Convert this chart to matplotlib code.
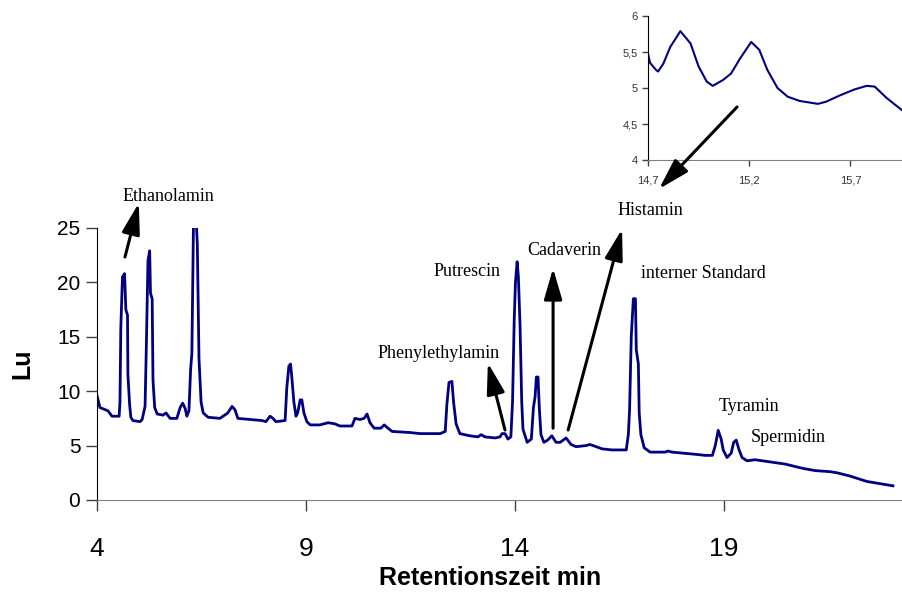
import matplotlib
matplotlib.use("Agg")
import matplotlib.pyplot as plt

# HPLC chromatogram, fluorescence signal over retention time
ret_time = [
    4.00, 4.07, 4.26, 4.36, 4.53, 4.55, 4.57, 4.61, 4.66, 4.69, 4.73, 4.74, 4.78, 4.81, 4.86,
    5.03, 5.08, 5.15, 5.18, 5.22, 5.26, 5.28, 5.32, 5.34, 5.38, 5.44, 5.58, 5.65, 5.75, 5.91,
    5.99, 6.05, 6.11, 6.15, 6.20, 6.24, 6.27, 6.31, 6.37, 6.40, 6.44, 6.49, 6.54, 6.66, 6.94,
    7.13, 7.23, 7.30, 7.37, 7.66, 7.95, 8.04, 8.14, 8.21, 8.28, 8.50, 8.54, 8.59, 8.63, 8.66,
    8.71, 8.76, 8.80, 8.86, 8.90, 8.95, 9.02, 9.10, 9.33, 9.53, 9.69, 9.81, 10.10, 10.17, 10.29,
    10.39, 10.46, 10.53, 10.63, 10.79, 10.87, 10.96, 11.06, 11.49, 11.73, 12.21, 12.33, 12.37,
    12.42, 12.49, 12.53, 12.59, 12.68, 12.92, 13.11, 13.19, 13.28, 13.52, 13.64, 13.69, 13.76,
    13.83, 13.90, 13.94, 13.98, 14.01, 14.05, 14.08, 14.12, 14.16, 14.19, 14.29, 14.39, 14.44,
    14.48, 14.51, 14.55, 14.58, 14.62, 14.69, 14.78, 14.88, 14.98, 15.08, 15.22, 15.34, 15.46,
    15.70, 15.79, 15.94, 16.08, 16.32, 16.66, 16.71, 16.74, 16.78, 16.83, 16.88, 16.90, 16.95,
    16.97, 17.01, 17.09, 17.23, 17.59, 17.66, 17.75, 18.31, 18.55, 18.72, 18.79, 18.86, 18.93,
    18.98, 19.07, 19.17, 19.23, 19.29, 19.36, 19.43, 19.55, 19.74, 20.10, 20.46, 20.89, 21.18,
    21.54, 21.70, 22.01, 22.42, 22.73, 23.04,
]
signal = [
    9.6, 8.5, 8.2, 7.7, 7.7, 9.0, 15.8, 20.5, 20.8, 17.5, 17.0, 11.5, 8.8, 7.6, 7.3,
    7.2, 7.4, 8.6, 14.0, 22.0, 22.9, 19.0, 18.5, 11.0, 8.5, 7.9, 7.8, 8.0, 7.5, 7.5,
    8.5, 8.9, 8.4, 7.7, 8.2, 12.0, 13.5, 26.0, 26.0, 23.5, 13.0, 9.0, 8.0, 7.6, 7.5,
    8.0, 8.6, 8.3, 7.5, 7.4, 7.3, 7.2, 7.7, 7.5, 7.2, 7.3, 10.3, 12.3, 12.5, 11.3,
    9.0, 7.7, 8.0, 9.2, 9.2, 8.0, 7.2, 6.9, 6.9, 7.1, 7.0, 6.8, 6.8, 7.5, 7.4,
    7.5, 7.9, 7.1, 6.6, 6.6, 6.9, 6.6, 6.3, 6.2, 6.1, 6.1, 6.3, 8.8,
    10.8, 10.9, 9.0, 7.0, 6.1, 5.9, 5.8, 6.0, 5.8, 5.7, 5.8, 6.1, 6.1,
    5.6, 5.8, 9.0, 16.5, 20.0, 21.9, 20.5, 16.0, 9.0, 6.5, 5.3, 5.6, 8.5,
    9.5, 11.3, 11.3, 8.5, 6.0, 5.3, 5.5, 5.9, 5.3, 5.3, 5.7, 5.1, 4.9,
    5.0, 5.1, 4.9, 4.7, 4.6, 4.6, 6.0, 8.3, 15.0, 18.5, 18.5, 13.8, 12.5,
    8.0, 6.0, 4.8, 4.4, 4.4, 4.5, 4.4, 4.2, 4.1, 4.1, 5.0, 6.4, 5.6,
    4.6, 3.9, 4.3, 5.3, 5.5, 4.6, 3.9, 3.6, 3.7, 3.5, 3.3, 2.9, 2.7,
    2.6, 2.5, 2.2, 1.7, 1.5, 1.3,
]

# zoomed section 14.7 - 16 min
zoom_time = [
    14.70, 14.71, 14.74, 14.75, 14.776, 14.81, 14.86, 14.91, 14.95, 14.99, 15.02, 15.07, 15.11,
    15.155, 15.21, 15.25, 15.29, 15.34, 15.39, 15.45, 15.54, 15.58, 15.65, 15.72, 15.78, 15.82,
    15.88, 15.956,
]
zoom_signal = [
    5.48, 5.35, 5.25, 5.23, 5.34, 5.57, 5.79, 5.62, 5.30, 5.09, 5.03, 5.11, 5.20,
    5.41, 5.64, 5.53, 5.25, 5.00, 4.88, 4.82, 4.78, 4.81, 4.90, 4.98, 5.03, 5.02,
    4.86, 4.69,
]

x_ticks = [4, 9, 14, 19]
y_ticks = [0, 5, 10, 15, 20, 25]
zoom_x_ticks = [14.7, 15.2, 15.7]
zoom_x_labels = ["14,7", "15,2", "15,7"]
zoom_y_ticks = [4, 4.5, 5, 5.5, 6]
zoom_y_labels = ["4", "4,5", "5", "5,5", "6"]

# peak labels: (text, x, y)
peak_labels = [
    ("Ethanolamin", 4.62, 27.85),
    ("Putrescin", 12.05, 20.96),
    ("Phenylethylamin", 10.70, 13.5),
    ("Cadaverin", 14.29, 22.9),
    ("Histamin", 16.44, 26.65),
    ("interner Standard", 17.01, 20.8),
    ("Tyramin", 18.88, 8.55),
    ("Spermidin", 19.65, 5.7),
]
# arrows from peak to label: (x_tail, y_tail, x_tip, y_tip)
peak_arrows = [
    (4.67, 22.33, 5.00, 27.3),
    (13.76, 6.43, 13.35, 12.6),
    (14.91, 6.6, 14.91, 21.3),
    (15.27, 6.43, 16.56, 24.9),
]

line_color = "#000080"
sans = ["Liberation Sans", "DejaVu Sans"]
serif = ["Liberation Serif", "DejaVu Serif"]

fig = plt.figure(figsize=(9.03, 5.96), dpi=100)
ax = fig.add_axes([0.1074, 0.1611, 0.8926, 0.4564])

ax.plot(ret_time, signal, color=line_color, linewidth=2.0)
ax.set_xlim(4, 23.28)
ax.set_ylim(0, 25)

for side in ("top", "right"):
    ax.spines[side].set_visible(False)
ax.spines["bottom"].set_color("#808080")
ax.spines["left"].set_color("black")

ax.set_xticks(x_ticks)
ax.set_yticks(y_ticks)
ax.tick_params(axis="both", direction="out", length=8, width=1, color="#404040")
ax.tick_params(axis="y", labelsize=15, pad=4)
ax.tick_params(axis="x", labelsize=19, pad=19)
for lbl in ax.get_xticklabels() + ax.get_yticklabels():
    lbl.set_family(sans)

ax.set_xlabel("Retentionszeit min", family=sans, fontsize=18, fontweight="bold",
              va="center")
ax.xaxis.set_label_coords(0.488, -0.287)
ax.set_ylabel("Lu", family=sans, fontsize=18, fontweight="bold", labelpad=16)

for text, tx, ty in peak_labels:
    ax.text(tx, ty, text, family=serif, fontsize=13, va="center", ha="left", clip_on=False)

arrow_style = "-|>,head_length=1.9,head_width=0.55"
for x0, y0, x1, y1 in peak_arrows:
    ax.annotate("", xy=(x1, y1), xytext=(x0, y0), annotation_clip=False,
                arrowprops=dict(arrowstyle=arrow_style, mutation_scale=10, color="black",
                                linewidth=2.2, shrinkA=0, shrinkB=0))

# inset with the Cadaverin / Histamin region
ins = fig.add_axes([0.7176, 0.7315, 0.2824, 0.2416])
ins.plot(zoom_time, zoom_signal, color=line_color, linewidth=1.5)
ins.set_xlim(14.7, 15.96)
ins.set_ylim(4, 6)
for side in ("top", "right"):
    ins.spines[side].set_visible(False)
ins.spines["bottom"].set_color("#808080")
ins.set_xticks(zoom_x_ticks)
ins.set_xticklabels(zoom_x_labels)
ins.set_yticks(zoom_y_ticks)
ins.set_yticklabels(zoom_y_labels)
ins.tick_params(axis="both", direction="out", length=4, width=1, labelsize=8,
                color="#404040", labelcolor="#333333")
ins.tick_params(axis="x", pad=7)
for lbl in ins.get_xticklabels() + ins.get_yticklabels():
    lbl.set_family(sans)

# arrow from the inset down to the zoomed peaks
fig.add_artist(matplotlib.patches.FancyArrowPatch(
    (0.8162, 0.8205), (0.7298, 0.6829), transform=fig.transFigure,
    arrowstyle=arrow_style, mutation_scale=10, color="black", linewidth=2.2,
    shrinkA=0, shrinkB=0))

fig.savefig("out.png", dpi=100)
